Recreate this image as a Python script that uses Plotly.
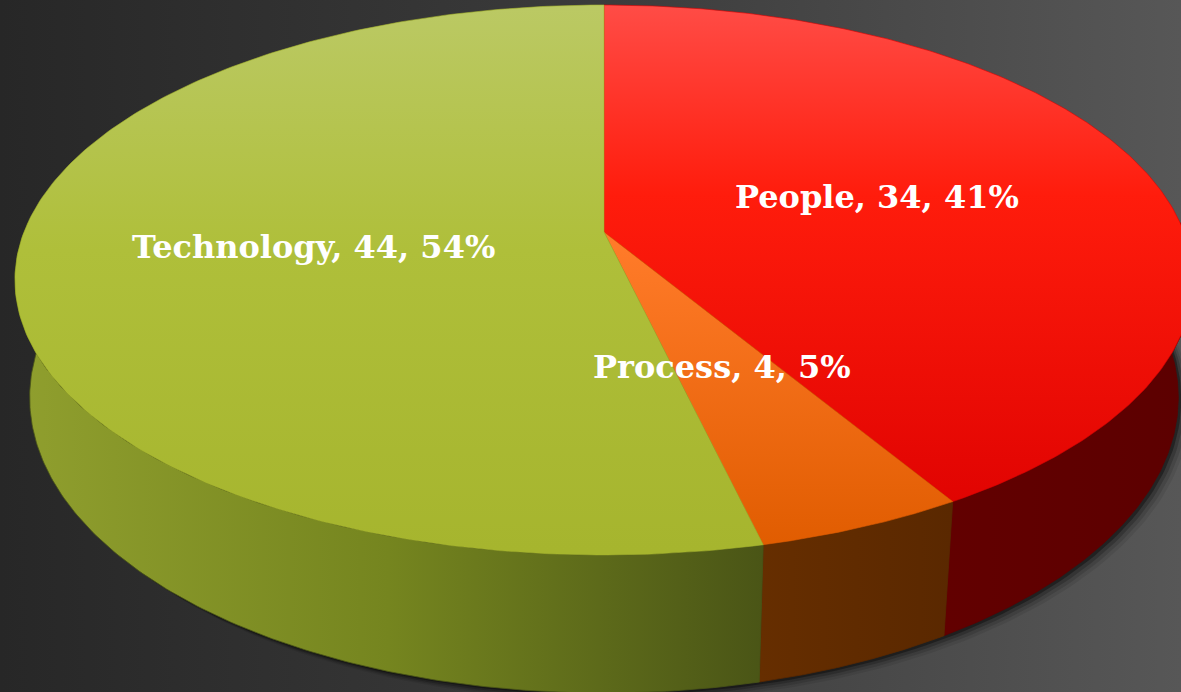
import numpy as np
import plotly.graph_objects as go

# ---- data ----
categories = ["People", "Process", "Technology"]
values = [34, 4, 44]
top_colors = [
    [[0, "#ff4c46"], [0.35, "#ff1c0c"], [1, "#dc0000"]],
    [[0, "#ff9450"], [0.45, "#ff7a28"], [1, "#e05c00"]],
    [[0, "#bbc964"], [0.45, "#afbf3a"], [1, "#a6b52e"]],
]
wall_colors = [
    [[0, "#620000"], [1, "#5c0000"]],
    [[0, "#662e00"], [1, "#5a2800"]],
    [[0, "#909f2e"], [0.5, "#75851f"], [1, "#4a5516"]],
]

# ---- geometry (perspective projection of a disc) ----
W, H = 1181, 692
CX, CY = 604, 232
A, B, K = 580.0, 266.6, 0.1745
DEPTH = 114.0
BOT_SHRINK = 0.975


def proj(theta_deg, f=1.0):
    t = np.radians(theta_deg)
    u = f * np.sin(t)
    v = -f * np.cos(t)
    s = 1.0 / (1.0 - K * v)
    return CX + A * u * s, CY + B * v * s, s


def proj_bottom(theta_deg):
    x, y, s = proj(theta_deg)
    return CX + (x - CX) * BOT_SHRINK, y + DEPTH * s


total = float(sum(values))
angles = np.concatenate([[0], np.cumsum(values) / total * 360.0])

fig = go.Figure()

# background
fig.add_trace(go.Scatter(
    x=[0, W, W, 0, 0], y=[0, 0, H, H, 0], mode="lines", fill="toself",
    line=dict(width=0), hoverinfo="skip",
    fillgradient=dict(type="horizontal", start=0, stop=W,
                      colorscale=[[0, "#272727"], [0.5, "#3b3b3b"], [1, "#575757"]]),
))

# soft shadow under the disc (lower right)
th = np.linspace(40, 275, 220)
for off, op in [(12, 0.08), (9, 0.12), (6, 0.2), (3, 0.35)]:
    pts = [proj_bottom(t) for t in th]
    bx = np.array([p[0] for p in pts]) + off
    by = np.array([p[1] for p in pts]) + off * 0.7
    fig.add_trace(go.Scatter(
        x=np.concatenate([bx, [CX]]), y=np.concatenate([by, [CY + 150]]),
        mode="lines", fill="toself", line=dict(width=0),
        fillcolor=f"rgba(0,0,0,{op})", hoverinfo="skip"))

# side walls (front half only)
for i, cat in enumerate(categories):
    a0, a1 = max(angles[i], 88.0), min(angles[i + 1], 272.0)
    if a1 <= a0:
        continue
    th = np.linspace(a0, a1, 160)
    tx, ty, _ = proj(th)
    bpts = [proj_bottom(t) for t in th[::-1]]
    bx = np.array([p[0] for p in bpts])
    by = np.array([p[1] for p in bpts])
    xs = np.concatenate([tx, bx, [tx[0]]])
    ys = np.concatenate([ty, by, [ty[0]]])
    fig.add_trace(go.Scatter(
        x=xs, y=ys, mode="lines", fill="toself",
        line=dict(width=0.8, color=wall_colors[i][-1][1]), hoverinfo="skip",
        fillgradient=dict(type="horizontal", start=float(xs.min()), stop=float(xs.max()),
                          colorscale=wall_colors[i]),
    ))

# top faces
for i, cat in enumerate(categories):
    th = np.linspace(angles[i], angles[i + 1], 240)
    tx, ty, _ = proj(th)
    xs = np.concatenate([[CX], tx, [CX]])
    ys = np.concatenate([[CY], ty, [CY]])
    fig.add_trace(go.Scatter(
        x=xs, y=ys, mode="lines", fill="toself",
        line=dict(width=0.6, color=top_colors[i][-1][1]), hoverinfo="skip",
        fillgradient=dict(type="vertical", start=5, stop=550, colorscale=top_colors[i]),
    ))

# labels
for i, cat in enumerate(categories):
    mid = (angles[i] + angles[i + 1]) / 2.0
    lx, ly, _ = proj(mid, 0.5)
    pct = round(values[i] / total * 100)
    fig.add_annotation(
        x=lx, y=ly, text=f"<b>{cat}, {values[i]}, {pct}%</b>", showarrow=False,
        xanchor="center", yanchor="middle",
        font=dict(family="DejaVu Serif", size=32, color="white"))

fig.update_layout(
    width=W, height=H, margin=dict(l=0, r=0, t=0, b=0),
    paper_bgcolor="#333333", plot_bgcolor="#333333", showlegend=False,
    xaxis=dict(range=[0, W], visible=False, fixedrange=True),
    yaxis=dict(range=[H, 0], visible=False, fixedrange=True),
)

fig.write_html("out.html", post_script="document.body.style.margin='0';",
               config={"displayModeBar": False})
